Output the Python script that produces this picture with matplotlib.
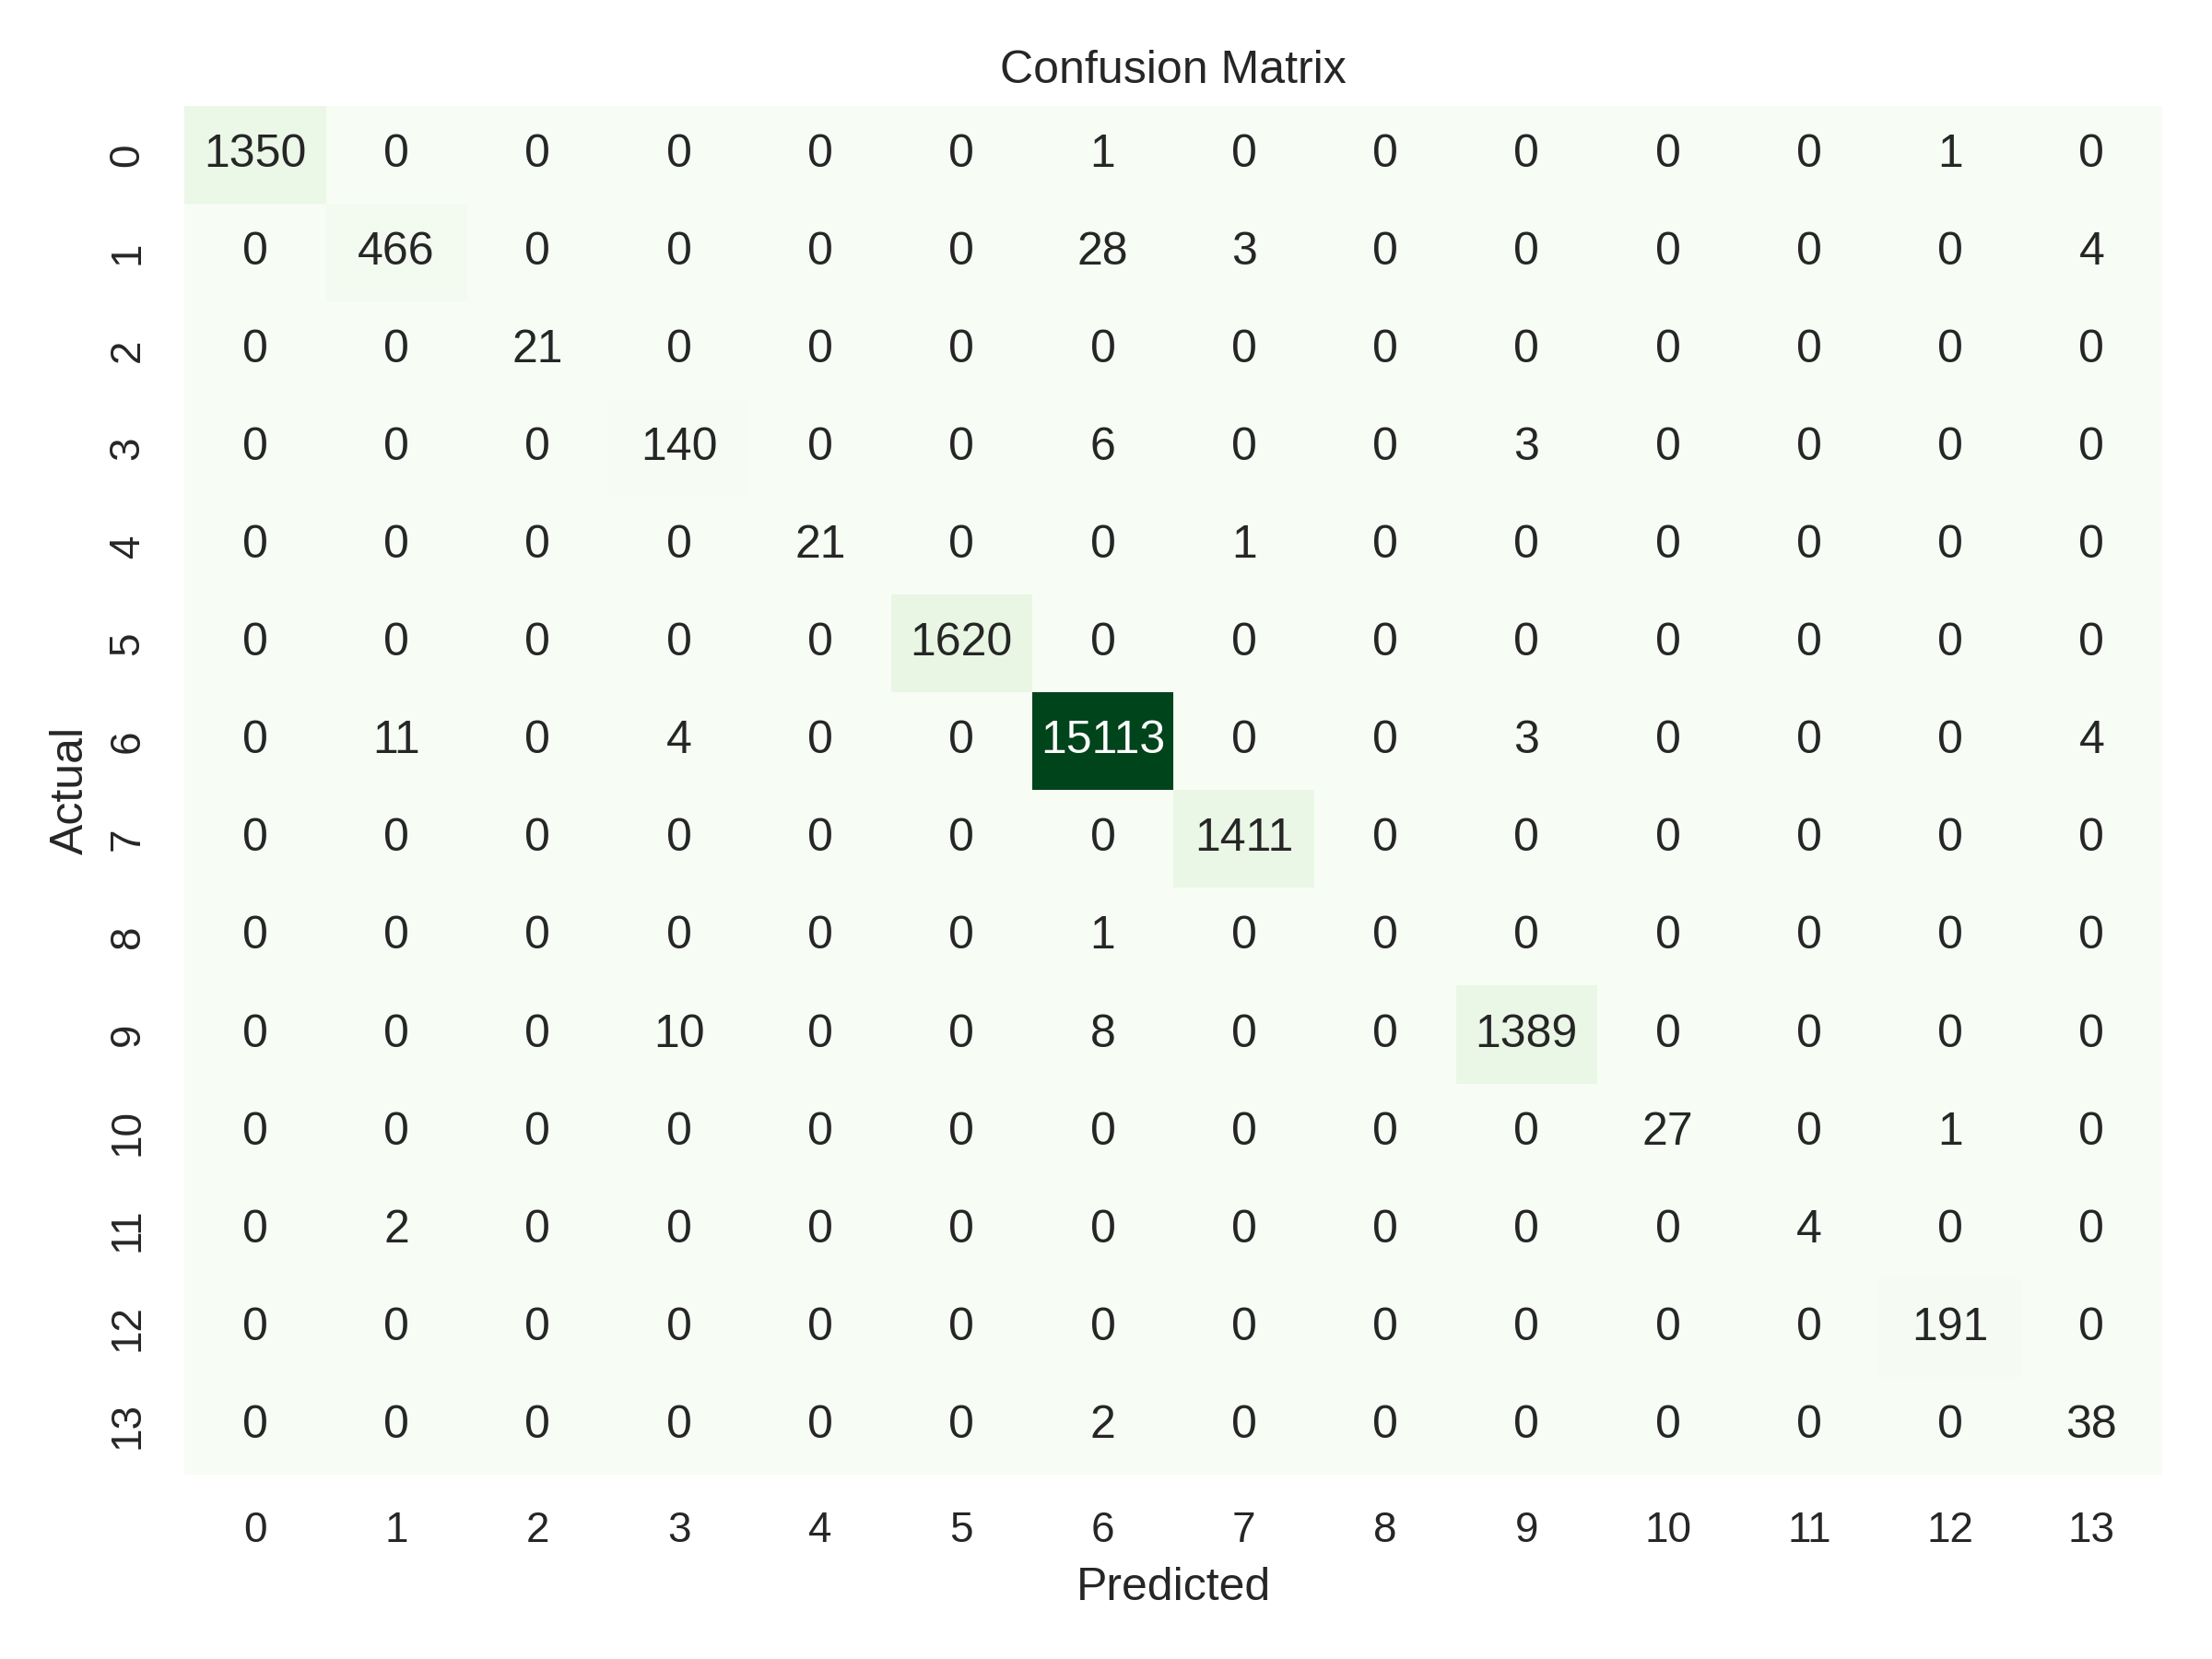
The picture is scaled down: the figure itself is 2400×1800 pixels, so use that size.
import numpy as np
import matplotlib
matplotlib.use('Agg')
import matplotlib.pyplot as plt
import seaborn as sns

# Class labels
labels = [str(i) for i in range(14)]

# Confusion matrix rows (actual)
row_0 = [1350, 0, 0, 0, 0, 0, 1, 0, 0, 0, 0, 0, 1, 0]
row_1 = [0, 466, 0, 0, 0, 0, 28, 3, 0, 0, 0, 0, 0, 4]
row_2 = [0, 0, 21, 0, 0, 0, 0, 0, 0, 0, 0, 0, 0, 0]
row_3 = [0, 0, 0, 140, 0, 0, 6, 0, 0, 3, 0, 0, 0, 0]
row_4 = [0, 0, 0, 0, 21, 0, 0, 1, 0, 0, 0, 0, 0, 0]
row_5 = [0, 0, 0, 0, 0, 1620, 0, 0, 0, 0, 0, 0, 0, 0]
row_6 = [0, 11, 0, 4, 0, 0, 15113, 0, 0, 3, 0, 0, 0, 4]
row_7 = [0, 0, 0, 0, 0, 0, 0, 1411, 0, 0, 0, 0, 0, 0]
row_8 = [0, 0, 0, 0, 0, 0, 1, 0, 0, 0, 0, 0, 0, 0]
row_9 = [0, 0, 0, 10, 0, 0, 8, 0, 0, 1389, 0, 0, 0, 0]
row_10 = [0, 0, 0, 0, 0, 0, 0, 0, 0, 0, 27, 0, 1, 0]
row_11 = [0, 2, 0, 0, 0, 0, 0, 0, 0, 0, 0, 4, 0, 0]
row_12 = [0, 0, 0, 0, 0, 0, 0, 0, 0, 0, 0, 0, 191, 0]
row_13 = [0, 0, 0, 0, 0, 0, 2, 0, 0, 0, 0, 0, 0, 38]

cm = np.array([row_0, row_1, row_2, row_3, row_4, row_5, row_6,
               row_7, row_8, row_9, row_10, row_11, row_12, row_13])

sns.set_theme(style='white')
plt.rcParams['font.family'] = ['Liberation Sans', 'DejaVu Sans']

fig, ax = plt.subplots(figsize=(8, 6), dpi=300)
sns.heatmap(cm, annot=True, fmt='d', cmap='Greens', cbar=False,
            xticklabels=labels, yticklabels=labels, ax=ax)
ax.set_title('Confusion Matrix')
ax.set_xlabel('Predicted')
ax.set_ylabel('Actual')

plt.tight_layout()
plt.savefig('out.png', dpi=300)
